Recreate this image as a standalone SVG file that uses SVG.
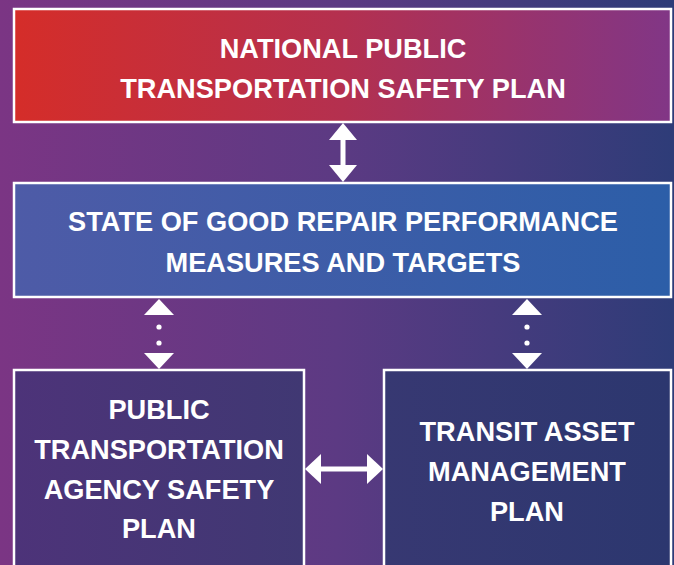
<svg xmlns="http://www.w3.org/2000/svg" width="674" height="565" viewBox="0 0 674 565">
  <defs>
    <linearGradient id="bg" x1="0" y1="0" x2="1" y2="0">
      <stop offset="0" stop-color="#7b3584"/>
      <stop offset="0.5" stop-color="#5c3a83"/>
      <stop offset="1" stop-color="#2e3c78"/>
    </linearGradient>
    <linearGradient id="gTop" x1="0" y1="0" x2="1" y2="0">
      <stop offset="0" stop-color="#d52d29"/>
      <stop offset="0.5" stop-color="#b4304f"/>
      <stop offset="1" stop-color="#813686"/>
    </linearGradient>
    <linearGradient id="gMid" x1="0" y1="0" x2="1" y2="0">
      <stop offset="0" stop-color="#4e5ba7"/>
      <stop offset="1" stop-color="#2c5ea8"/>
    </linearGradient>
    <linearGradient id="gLeft" x1="0" y1="0" x2="1" y2="0">
      <stop offset="0" stop-color="#4d3379"/>
      <stop offset="1" stop-color="#403873"/>
    </linearGradient>
    <linearGradient id="gRight" x1="0" y1="0" x2="1" y2="0">
      <stop offset="0" stop-color="#373872"/>
      <stop offset="1" stop-color="#2c376f"/>
    </linearGradient>
    <style>
      .box { stroke: #ffffff; stroke-width: 2.5; }
      .lbl { font-family: "Liberation Sans", Arial, sans-serif; font-weight: bold; font-size: 27.2px; fill: #ffffff; text-anchor: middle; }
      .arr { fill: #ffffff; stroke: none; }
      .shaft { stroke: #ffffff; stroke-width: 5; fill: none; }
    </style>
  </defs>

  <rect x="0" y="0" width="674" height="565" fill="url(#bg)"/>

  <g id="node-national">
    <rect class="box" x="14" y="9" width="657" height="113" fill="url(#gTop)"/>
    <text class="lbl" x="343" y="58">NATIONAL PUBLIC</text>
    <text class="lbl" x="343" y="98">TRANSPORTATION SAFETY PLAN</text>
  </g>

  <g id="node-sgr">
    <rect class="box" x="14" y="183" width="657" height="114" fill="url(#gMid)"/>
    <text class="lbl" x="343" y="231">STATE OF GOOD REPAIR PERFORMANCE</text>
    <text class="lbl" x="343" y="272">MEASURES AND TARGETS</text>
  </g>

  <g id="node-ptasp">
    <rect class="box" x="14" y="370" width="290" height="210" fill="url(#gLeft)"/>
    <text class="lbl" x="159" y="419">PUBLIC</text>
    <text class="lbl" x="159" y="459">TRANSPORTATION</text>
    <text class="lbl" x="159" y="499">AGENCY SAFETY</text>
    <text class="lbl" x="159" y="538">PLAN</text>
  </g>

  <g id="node-tam">
    <rect class="box" x="384" y="370" width="287" height="210" fill="url(#gRight)"/>
    <text class="lbl" x="527" y="441">TRANSIT ASSET</text>
    <text class="lbl" x="527" y="481">MANAGEMENT</text>
    <text class="lbl" x="527" y="521">PLAN</text>
  </g>

  <g id="connectors">
    <!-- vertical solid double arrow -->
    <line class="shaft" x1="343" y1="136" x2="343" y2="168"/>
    <polygon class="arr" points="343,123 357,140 329,140"/>
    <polygon class="arr" points="343,182 357,165 329,165"/>

    <!-- dotted arrow left -->
    <polygon class="arr" points="159,299 174,315 144,315"/>
    <circle class="arr" cx="159" cy="327" r="2.6"/>
    <circle class="arr" cx="159" cy="343" r="2.6"/>
    <polygon class="arr" points="159,369 174,353 144,353"/>

    <!-- dotted arrow right -->
    <polygon class="arr" points="527,299 542,315 512,315"/>
    <circle class="arr" cx="527" cy="327" r="2.6"/>
    <circle class="arr" cx="527" cy="343" r="2.6"/>
    <polygon class="arr" points="527,369 542,353 512,353"/>

    <!-- horizontal double arrow -->
    <line class="shaft" x1="318" y1="469" x2="369" y2="469"/>
    <polygon class="arr" points="305,469 321,454 321,484"/>
    <polygon class="arr" points="383,469 367,454 367,484"/>
  </g>
</svg>
